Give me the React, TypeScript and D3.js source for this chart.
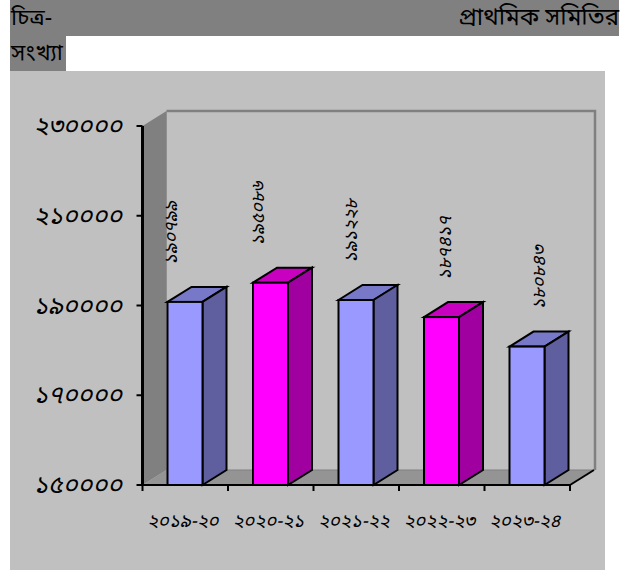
import React from "react";
import * as d3 from "d3";

const categories = ["২০১৯-২০", "২০২০-২১", "২০২১-২২", "২০২২-২৩", "২০২৩-২৪"];
const values = [190799, 195086, 191228, 187417, 180843];
const valueLabels = ["১৯০৭৯৯", "১৯৫০৮৬", "১৯১২২৮", "১৮৭৪১৭", "১৮০৮৪৩"];
const yTicks = [150000, 170000, 190000, 210000, 230000];
const yTickLabels = ["১৫০০০০", "১৭০০০০", "১৯০০০০", "২১০০০০", "২৩০০০০"];
const barFront = ["#9999FF", "#FF00FF", "#9999FF", "#FF00FF", "#9999FF"];
const barSide = ["#5F5FA0", "#A000A0", "#5F5FA0", "#A000A0", "#5F5FA0"];
const barTop = ["#7878C8", "#C800C0", "#7878C8", "#C800C0", "#7878C8"];
const labelNudge = [-14, -13, -5, 3, 12];

const DX = 24;
const DY = -15;
const font = "'Noto Sans Bengali','Lohit Bengali','Mukti','Noto Serif Bengali','Noto Sans',sans-serif";

export default function App() {
  const y = d3.scaleLinear().domain([150000, 230000]).range([485, 126]);
  const x = d3.scaleBand<string>().domain(categories).range([142.5, 570]);
  const barW = 35;
  const base = y(150000);
  const top = y(230000);
  const x0 = x.range()[0];
  const x1 = x.range()[1];
  const poly = (pts: number[][]) => pts.map((p) => p.join(",")).join(" ");
  return (
    <svg
      width={635}
      height={571}
      style={{ position: "absolute", left: 0, top: 0 }}
      fontFamily={font}
    >
      <rect x={0} y={0} width={635} height={571} fill="#fff" />
      <rect x={10} y={0} width={609} height={36} fill="#808080" />
      <rect x={10} y={36} width={56} height={35} fill="#808080" />
      <rect x={10} y={71} width={595} height={499} fill="#C0C0C0" />
      <text x={11} y={25} fontSize={23} fill="#000">চিত্র-</text>
      <text x={619} y={25} fontSize={24} fill="#000" textAnchor="end">প্রাথমিক সমিতির</text>
      <text x={11} y={60} fontSize={23} fill="#000">সংখ্যা</text>

      <polygon points={poly([[x0, top], [x0 + DX, top + DY], [x0 + DX, base + DY], [x0, base]])} fill="#808080" />
      <polygon points={poly([[x0, base], [x0 + DX, base + DY], [x1 + DX, base + DY], [x1, base]])} fill="#949494" />
      <polyline
        points={poly([[x0 + DX, top + DY], [x1 + DX + 1, top + DY], [x1 + DX + 1, base + DY]])}
        fill="none"
        stroke="#808080"
        strokeWidth={2.5}
      />
      <line x1={x0 + DX} y1={top + DY} x2={x0 + DX} y2={base + DY} stroke="#909090" strokeWidth={1} />
      <line x1={x0 + DX} y1={base + DY} x2={x1 + DX} y2={base + DY} stroke="#808080" strokeWidth={1} />
      <line x1={x1} y1={base} x2={x1 + DX} y2={base + DY} stroke="#000" strokeWidth={2} />

      {values.map((v, i) => {
        const bw = x.bandwidth();
        const l = x(categories[i])! + (bw - barW) / 2 - 0.25;
        const r = l + barW;
        const t = y(v);
        return (
          <g key={i} stroke="#000" strokeWidth={2} strokeLinejoin="miter">
            <polygon points={poly([[l, t], [l + DX, t + DY], [r + DX, t + DY], [r, t]])} fill={barTop[i]} />
            <polygon points={poly([[r, t], [r + DX, t + DY], [r + DX, base + DY], [r, base]])} fill={barSide[i]} />
            <rect x={l} y={t} width={barW} height={base - t} fill={barFront[i]} />
          </g>
        );
      })}

      <line x1={x0} y1={top} x2={x0} y2={base} stroke="#000" strokeWidth={3} />
      <line x1={x0 - 5} y1={base} x2={x1} y2={base} stroke="#000" strokeWidth={2} />
      {yTicks.map((t, i) => (
        <g key={t}>
          <line x1={x0 - 6} x2={x0} y1={y(t)} y2={y(t)} stroke="#000" strokeWidth={2} />
          <text x={122} y={y(t) + 8} fontSize={25} fontStyle="italic" textAnchor="end" fill="#000">
            {yTickLabels[i]}
          </text>
        </g>
      ))}
      {[...categories.map((c) => x(c)!), x1].map((p, i) => (
        <line key={i} x1={p} x2={p} y1={base} y2={base + 6} stroke="#000" strokeWidth={2} />
      ))}
      {categories.map((c) => (
        <text
          key={c}
          x={x(c)! + x.bandwidth() / 2 - 2.5}
          y={527}
          fontSize={18.5}
          fontStyle="italic"
          textAnchor="middle"
          fill="#000"
        >
          {c}
        </text>
      ))}
      {values.map((v, i) => {
        const cx = x(categories[i])! + x.bandwidth() / 2 + labelNudge[i];
        const by = y(v) - 37;
        return (
          <text
            key={i}
            transform={`translate(${cx + 6},${by}) rotate(-90)`}
            fontSize={18}
            fontStyle="italic"
            fill="#000"
          >
            {valueLabels[i]}
          </text>
        );
      })}
    </svg>
  );
}
